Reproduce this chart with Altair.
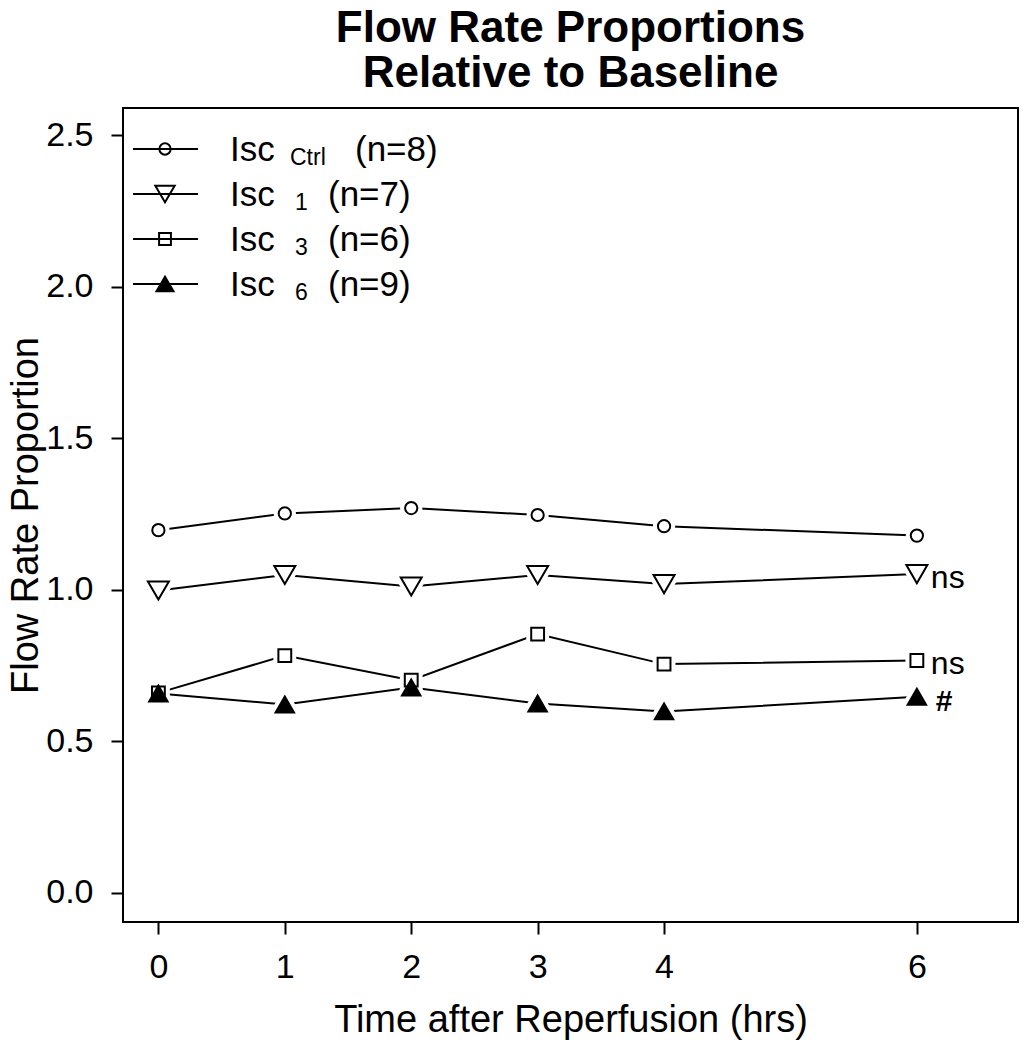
import altair as alt
import pandas as pd

# ---------------- data ----------------
hours = [0, 1, 2, 3, 4, 6]
series_keys = ["ctrl", "isc1", "isc3", "isc6"]
ctrl = [1.197, 1.252, 1.270, 1.247, 1.210, 1.179]
isc1 = [0.998, 1.049, 1.011, 1.049, 1.019, 1.052]
isc3 = [0.660, 0.783, 0.702, 0.854, 0.755, 0.767]
isc6 = [0.658, 0.622, 0.678, 0.625, 0.599, 0.647]

legend_main = ["Isc", "Isc", "Isc", "Isc"]
legend_sub = ["Ctrl", "1", "3", "6"]
legend_n = ["(n=8)", "(n=7)", "(n=6)", "(n=9)"]

annot_series = ["isc1", "isc3", "isc6"]
annot_text = ["ns", "ns", "#"]

y_ticks = [0.0, 0.5, 1.0, 1.5, 2.0, 2.5]

# ---------------- styles ----------------
FONT = "Liberation Sans"
shape_range = ["circle", "triangle-down", "square", "triangle-up"]
size_range = [150, 440, 165, 340]
fill_range = ["white", "white", "white", "black"]
legend_fill = ["transparent", "transparent", "transparent", "black"]

rows = []
for key, vals in zip(series_keys, [ctrl, isc1, isc3, isc6]):
    for h, v in zip(hours, vals):
        rows.append({"series": key, "hours": h, "value": v})
df = pd.DataFrame(rows)

last = {k: v[-1] for k, v in zip(series_keys, [ctrl, isc1, isc3, isc6])}
annot_df = pd.DataFrame({
    "series": annot_series,
    "label": annot_text,
    "hours": [hours[-1]] * len(annot_series),
    "value": [last[s] for s in annot_series],
})

x_enc = alt.X(
    "hours:Q",
    scale=alt.Scale(domain=[-0.28, 6.8], nice=False, zero=False),
    axis=alt.Axis(values=hours, format="d", title="Time after Reperfusion (hrs)",
                  labelPadding=16, titlePadding=17),
)
y_enc = alt.Y(
    "value:Q",
    scale=alt.Scale(domain=[-0.096, 2.59], nice=False, zero=False),
    axis=alt.Axis(values=y_ticks, format=".1f", title="Flow Rate Proportion",
                  labelPadding=18, titlePadding=0, titleFontSize=38),
)
shape_enc = alt.Shape("series:N", scale=alt.Scale(domain=series_keys, range=shape_range), legend=None)
size_enc = alt.Size("series:N", scale=alt.Scale(type="ordinal", domain=series_keys, range=size_range), legend=None)
fill_enc = alt.Fill("series:N", scale=alt.Scale(domain=series_keys, range=fill_range), legend=None)

base = alt.Chart(df)

lines = base.mark_line(color="black", strokeWidth=2).encode(
    x=x_enc, y=y_enc, detail="series:N"
)
halo = base.mark_point(filled=True, fill="white", stroke="white", strokeWidth=10, opacity=1).encode(
    x="hours:Q", y="value:Q", shape=shape_enc, size=size_enc
)
markers = base.mark_point(filled=True, stroke="black", strokeWidth=2, opacity=1, fillOpacity=1).encode(
    x="hours:Q", y="value:Q", shape=shape_enc, size=size_enc, fill=fill_enc
)

annot_ns = alt.Chart(annot_df).transform_filter(alt.datum.label != "#").mark_text(
    align="left", baseline="middle", dx=14, dy=4, font=FONT, fontSize=32, color="black"
).encode(x="hours:Q", y="value:Q", text="label:N")
annot_hash = alt.Chart(annot_df).transform_filter(alt.datum.label == "#").mark_text(
    align="left", baseline="middle", dx=19, dy=5, font=FONT, fontSize=30, fontWeight="bold", color="black"
).encode(x="hours:Q", y="value:Q", text="label:N")

# ---------------- custom legend ----------------
legend_layers = []
row_y0, row_gap = 41, 45
for i in range(len(series_keys)):
    yy = row_y0 + row_gap * i
    one = alt.Chart(pd.DataFrame({
        "main": [legend_main[i]], "sub": [legend_sub[i]], "n": [legend_n[i]]
    }))
    legend_layers.append(one.mark_rule(color="black", strokeWidth=2).encode(
        x=alt.value(10), x2=alt.value(75), y=alt.value(yy)))
    legend_layers.append(one.mark_point(
        shape=shape_range[i], size=size_range[i] * 0.85, stroke="black", strokeWidth=2,
        fill=legend_fill[i], filled=True, opacity=1,
        fillOpacity=1 if legend_fill[i] != "transparent" else 0,
    ).encode(x=alt.value(42), y=alt.value(yy)))
    legend_layers.append(one.mark_text(
        align="left", baseline="alphabetic", font=FONT, fontSize=35, color="black"
    ).encode(x=alt.value(107), y=alt.value(yy + 12), text="main:N"))
    sub_x = 167 if len(legend_sub[i]) > 1 else 172
    legend_layers.append(one.mark_text(
        align="left", baseline="alphabetic", font=FONT, fontSize=23, color="black"
    ).encode(x=alt.value(sub_x), y=alt.value(yy + 16), text="sub:N"))
    n_x = 232 if len(legend_sub[i]) > 1 else 205
    legend_layers.append(one.mark_text(
        align="left", baseline="alphabetic", font=FONT, fontSize=35, color="black"
    ).encode(x=alt.value(n_x), y=alt.value(yy + 12), text="n:N"))

chart = alt.layer(lines, halo, markers, annot_ns, annot_hash, *legend_layers).properties(
    width=895,
    height=814,
    autosize=alt.AutoSizeParams(type="none"),
    padding={"left": 115, "top": 100, "right": 6, "bottom": 120},
    title=alt.Title(
        ["Flow Rate Proportions", "Relative to Baseline"],
        font=FONT, fontSize=44, fontWeight="bold", color="black",
        anchor="middle", baseline="top", lineHeight=45, offset=12,
    ),
).configure_view(
    stroke="black", strokeWidth=2
).configure_axis(
    domain=False, grid=False, ticks=True, tickColor="black", tickSize=12, tickWidth=2,
    labelFont=FONT, labelFontSize=34, labelColor="black",
    titleFont=FONT, titleFontSize=38, titleFontWeight="normal", titleColor="black",
)

chart.save("out.html", embed_options={"renderer": "svg", "actions": False})
